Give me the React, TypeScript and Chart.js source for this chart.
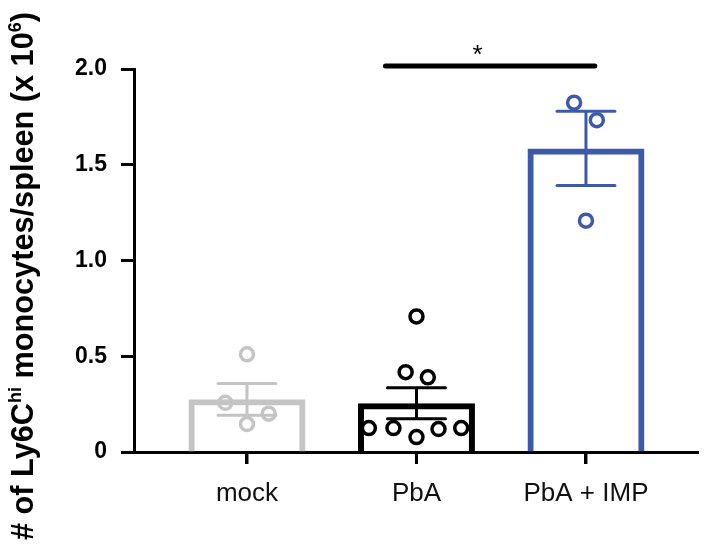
import React, { useEffect, useRef } from "react";
import { Chart, registerables } from "chart.js";

Chart.register(...registerables);

// ---- data ----
const categories = ["mock", "PbA", "PbA + IMP"];
const barMeans = [0.275, 0.255, 1.585];
const barSems = [0.083, 0.081, 0.194];
const mockValues = [0.51, 0.257, 0.146, 0.2];
const pbaValues = [0.708, 0.417, 0.39, 0.125, 0.125, 0.078, 0.12, 0.125];
const impValues = [1.824, 1.733, 1.208];
// horizontal jitter of the dots (category units)
const mockJitter = [0, -0.128, 0, 0.128];
const pbaJitter = [0, -0.064, 0.067, -0.281, -0.136, 0, 0.13, 0.264];
const impJitter = [-0.07, 0.064, 0];
const yTicks = [0, 0.5, 1.0, 1.5, 2.0];
const yMin = 0;
const yMax = 2.0;
const xMin = 0.3333;
const xMax = 3.661;
// significance annotation
const sigFrom = 1.817;
const sigTo = 3.052;
const sigLevel = 2.016;
const sigStarAt = 2.36;
const sigLabel = "*";

const groupColors = ["#c4c4c4", "#000000", "#3c5aa9"];
const FONT = '"Liberation Sans", Arial, sans-serif';

const errorBarPlugin = {
  id: "errorBars",
  afterDatasetDraw(chart: any, args: any) {
    const ds = chart.data.datasets[args.index];
    if (ds.type !== "bar") return;
    const ctx = chart.ctx;
    const xs = chart.scales.x;
    const ys = chart.scales.y;
    ctx.save();
    ctx.lineWidth = 3;
    barMeans.forEach((m, i) => {
      const cx = xs.getPixelForValue(i + 1);
      const top = ys.getPixelForValue(m + barSems[i]);
      const bot = ys.getPixelForValue(m - barSems[i]);
      ctx.strokeStyle = groupColors[i];
      ctx.lineCap = "butt";
      ctx.beginPath();
      ctx.moveTo(cx, top);
      ctx.lineTo(cx, bot);
      ctx.stroke();
      ctx.lineCap = "round";
      ctx.beginPath();
      ctx.moveTo(cx - 29, top);
      ctx.lineTo(cx + 29, top);
      ctx.moveTo(cx - 29, bot);
      ctx.lineTo(cx + 29, bot);
      ctx.stroke();
    });
    ctx.restore();
  },
};

const sigPlugin = {
  id: "sigBar",
  afterDraw(chart: any) {
    const ctx = chart.ctx;
    const xs = chart.scales.x;
    const ys = chart.scales.y;
    const yy = ys.getPixelForValue(sigLevel);
    ctx.save();
    // category tick marks under the x axis
    ctx.strokeStyle = "#000";
    ctx.lineWidth = 3;
    ctx.lineCap = "butt";
    ctx.beginPath();
    categories.forEach((_, i) => {
      const px = xs.getPixelForValue(i + 1);
      ctx.moveTo(px, chart.chartArea.bottom);
      ctx.lineTo(px, chart.chartArea.bottom + 12);
    });
    ctx.stroke();
    // significance bar
    ctx.lineWidth = 5;
    ctx.lineCap = "round";
    ctx.beginPath();
    ctx.moveTo(xs.getPixelForValue(sigFrom), yy);
    ctx.lineTo(xs.getPixelForValue(sigTo), yy);
    ctx.stroke();
    ctx.fillStyle = "#000";
    ctx.font = `26px ${FONT}`;
    ctx.textAlign = "center";
    ctx.textBaseline = "alphabetic";
    ctx.fillText(sigLabel, xs.getPixelForValue(sigStarAt), yy - 3);
    ctx.restore();
  },
};

function dots(values: number[], jitter: number[], group: number) {
  return values.map((v, i) => ({ x: group + jitter[i], y: v }));
}

export default function App() {
  const ref = useRef<HTMLCanvasElement | null>(null);

  useEffect(() => {
    if (!ref.current) return;
    const pointStyle = (c: string) => ({
      pointRadius: 6.5,
      pointHoverRadius: 6.5,
      pointBorderWidth: 3.5,
      pointBackgroundColor: "rgba(0,0,0,0)",
      pointBorderColor: c,
      borderColor: c,
      backgroundColor: "rgba(0,0,0,0)",
    });
    const chart = new Chart(ref.current, {
      type: "bar",
      data: {
        datasets: [
          { type: "scatter", label: "mock", data: dots(mockValues, mockJitter, 1), ...pointStyle(groupColors[0]) } as any,
          { type: "scatter", label: "PbA", data: dots(pbaValues, pbaJitter, 2), ...pointStyle(groupColors[1]) } as any,
          { type: "scatter", label: "PbA + IMP", data: dots(impValues, impJitter, 3), ...pointStyle(groupColors[2]) } as any,
          {
            type: "bar",
            label: "mean",
            data: barMeans.map((m, i) => ({ x: i + 1, y: m })),
            backgroundColor: "rgba(255,255,255,0)",
            borderColor: groupColors,
            borderWidth: 6,
            borderSkipped: "bottom",
            barPercentage: 0.69,
            categoryPercentage: 1,
          } as any,
        ],
      },
      options: {
        animation: false,
        responsive: false,
        devicePixelRatio: 1,
        layout: { padding: { top: 69, left: 0, right: 0, bottom: 0 } },
        plugins: { legend: { display: false }, tooltip: { enabled: false } },
        scales: {
          x: {
            type: "linear",
            offset: false,
            min: xMin,
            max: xMax,
            afterBuildTicks: (s: any) => {
              s.ticks = categories.map((_, i) => ({ value: i + 1 }));
            },
            afterFit: (s: any) => {
              s.height = 94;
            },
            ticks: {
              autoSkip: false,
              maxRotation: 0,
              padding: 14,
              color: "#111",
              font: { family: FONT, size: 26 },
              callback: (v: any) => categories[Math.round(Number(v)) - 1] ?? "",
            },
            grid: {
              display: true,
              offset: false,
              drawOnChartArea: false,
              drawTicks: true,
              tickLength: 12,
              tickWidth: 3,
              tickColor: "#000",
            },
            border: { display: true, width: 3, color: "#000" },
          },
          y: {
            type: "linear",
            min: yMin,
            max: yMax,
            afterBuildTicks: (s: any) => {
              s.ticks = yTicks.map((v) => ({ value: v }));
            },
            afterFit: (s: any) => {
              s.width = 134;
            },
            ticks: {
              padding: 14,
              color: "#000",
              font: { family: FONT, size: 23, weight: "bold" },
              callback: (v: any) => (Number(v) === 0 ? "0" : Number(v).toFixed(1)),
            },
            grid: {
              display: true,
              drawOnChartArea: false,
              drawTicks: true,
              tickLength: 13,
              tickWidth: 3,
              tickColor: "#000",
            },
            border: { display: true, width: 3, color: "#000" },
          },
        },
      },
      plugins: [errorBarPlugin, sigPlugin],
    });
    return () => chart.destroy();
  }, []);

  return (
    <div
      style={{
        position: "absolute",
        left: 0,
        top: 0,
        width: 708,
        height: 546,
        background: "#fff",
        overflow: "hidden",
      }}
    >
      <canvas ref={ref} width={708} height={546} style={{ display: "block" }} />
      <div
        style={{
          position: "absolute",
          left: 7,
          top: 540,
          transform: "rotate(-90deg)",
          transformOrigin: "0 0",
          whiteSpace: "nowrap",
          font: `bold 30.7px ${FONT}`,
          lineHeight: "31px",
          color: "#000",
        }}
      >
        # of Ly6C
        <span style={{ fontSize: 18, position: "relative", top: -12, lineHeight: 0 }}>hi</span>
        {" "}monocytes/spleen (x 10
        <span style={{ fontSize: 18, position: "relative", top: -12, lineHeight: 0 }}>6</span>)
      </div>
    </div>
  );
}
